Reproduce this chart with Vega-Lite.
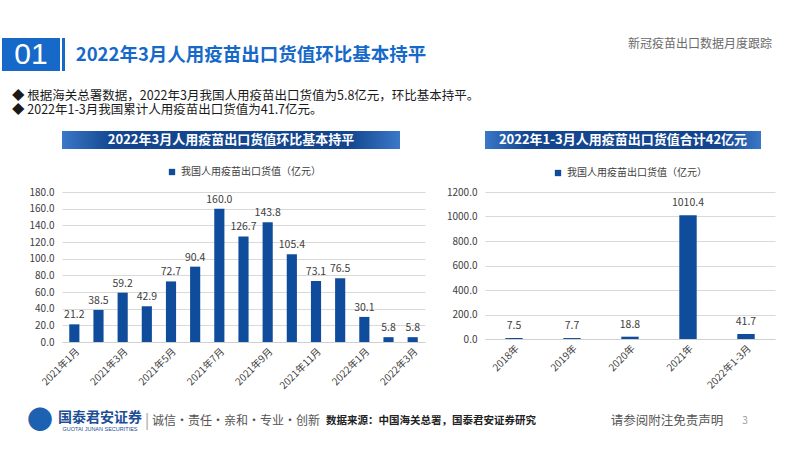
{
 "$schema": "https://vega.github.io/schema/vega-lite/v6.json",
 "background": "#FFFFFF",
 "padding": {"left": 2, "top": 37, "right": 0, "bottom": 0},
 "config": {
  "font": "Noto Sans CJK SC",
  "view": {"stroke": null},
  "legend": {"layout": {"top": {"anchor": "middle"}}},
  "axis": {"labelFont": "Noto Sans CJK SC", "labelColor": "#404040"}
 },
 "spacing": 16,
 "vconcat": [
  {
   "spacing": 18,
   "vconcat": [
    {
     "hconcat": [
      {
       "width": 58, "height": 33,
       "data": {"values": [{"label": "01"}]},
       "layer": [
        {"mark": {"type": "rect", "color": "#1669C9"}, "encoding": {}},
        {"mark": {"type": "text", "color": "#FFFFFF", "fontSize": 30, "font": "Liberation Sans"}, "encoding": {"text": {"field": "label"}}}
       ]
      },
      {"width": 2, "height": 33, "data": {"values": [{"label": ""}]}, "mark": {"type": "text"}, "encoding": {"text": {"field": "label"}}},
      {"width": 3, "height": 33, "data": {"values": [{"label": ""}]}, "mark": {"type": "rect", "color": "#1669C9"}, "encoding": {}},
      {"width": 11, "height": 33, "data": {"values": [{"label": ""}]}, "mark": {"type": "text"}, "encoding": {"text": {"field": "label"}}},
      {
       "width": 350, "height": 33,
       "data": {"values": [{"label": "2022年3月人用疫苗出口货值环比基本持平"}]},
       "mark": {"type": "text", "fontSize": 18.5, "fontWeight": "bold", "color": "#1669C9"},
       "encoding": {"text": {"field": "label"}}
      },
      {"width": 174, "height": 33, "data": {"values": [{"label": ""}]}, "mark": {"type": "text"}, "encoding": {"text": {"field": "label"}}},
      {
       "width": 200, "height": 33,
       "data": {"values": [{"label": "新冠疫苗出口数据月度跟踪"}]},
       "mark": {"type": "text", "fontSize": 12, "color": "#6B6B6B", "dy": -11},
       "encoding": {"text": {"field": "label"}}
      }
     ],
     "spacing": 0,
     "bounds": "flush"
    },
    {
     "title": {"text": "◆ 根据海关总署数据，2022年3月我国人用疫苗出口货值为5.8亿元，环比基本持平。", "subtitle": "◆ 2022年1-3月我国累计人用疫苗出口货值为41.7亿元。", "anchor": "start", "dx": 10, "fontSize": 12.5, "fontWeight": "normal", "color": "#1A1A1A", "subtitleFontSize": 12.5, "subtitleColor": "#1A1A1A", "subtitlePadding": 2, "offset": 9},
     "resolve": {"scale": {"color": "independent"}, "legend": {"color": "independent"}},
     "hconcat": [
      {"width": 1, "height": 1, "data": {"values": [{"label": ""}]}, "mark": {"type": "text"}, "encoding": {"text": {"field": "label"}}},
      {
       "resolve": {"scale": {"color": "independent"}, "legend": {"color": "independent"}},
       "vconcat": [
        {
         "width": 338, "height": 18,
         "data": {"values": [{"label": "2022年3月人用疫苗出口货值环比基本持平"}]},
         "layer": [
          {"mark": {"type": "rect", "color": {"gradient": "linear", "x1": 0, "y1": 0, "x2": 1, "y2": 0, "stops": [{"offset": 0, "color": "#3A78C8"}, {"offset": 0.15, "color": "#13468F"}, {"offset": 0.85, "color": "#13468F"}, {"offset": 1, "color": "#3A78C8"}]}}, "encoding": {}},
          {"mark": {"type": "text", "color": "#FFFFFF", "fontSize": 13, "fontWeight": "bold"}, "encoding": {"text": {"field": "label"}}}
         ]
        },
        {
         "width": 363, "height": 150,
         "data": {"values": [
          {"month": "2021年1月", "value": 21.2},
          {"month": "2021年2月", "value": 38.5},
          {"month": "2021年3月", "value": 59.2},
          {"month": "2021年4月", "value": 42.9},
          {"month": "2021年5月", "value": 72.7},
          {"month": "2021年6月", "value": 90.4},
          {"month": "2021年7月", "value": 160.0},
          {"month": "2021年8月", "value": 126.7},
          {"month": "2021年9月", "value": 143.8},
          {"month": "2021年10月", "value": 105.4},
          {"month": "2021年11月", "value": 73.1},
          {"month": "2021年12月", "value": 76.5},
          {"month": "2022年1月", "value": 30.1},
          {"month": "2022年2月", "value": 5.8},
          {"month": "2022年3月", "value": 5.8}
         ]},
         "encoding": {
          "x": {"field": "month", "type": "nominal", "sort": null, "scale": {"paddingInner": 0.58, "paddingOuter": 0.3},
                "axis": {"title": null, "values": ["2021年1月", "2021年3月", "2021年5月", "2021年7月", "2021年9月", "2021年11月", "2022年1月", "2022年3月"], "labelAngle": -45, "labelFontSize": 10, "ticks": false, "domainColor": "#D0D0D0", "labelPadding": 4}},
          "y": {"field": "value", "type": "quantitative", "scale": {"domain": [0, 180]},
                "axis": {"title": null, "values": [0, 20, 40, 60, 80, 100, 120, 140, 160, 180], "format": ".1f", "domain": false, "ticks": false, "gridColor": "#D9D9D9", "labelFontSize": 10, "labelPadding": 8, "minExtent": 53}}
         },
         "layer": [
          {"mark": {"type": "bar"}, "encoding": {"color": {"datum": "我国人用疫苗出口货值（亿元）", "scale": {"range": ["#0F4C9B"]}, "legend": {"orient": "top", "title": null, "symbolType": "square", "symbolSize": 40, "labelFontSize": 10, "labelColor": "#404040", "offset": 15, "padding": 0}}}},
          {"mark": {"type": "text", "dy": -9, "fontSize": 10.5, "color": "#404040"}, "encoding": {"text": {"field": "value", "format": ".1f"}}}
         ]
        }
       ],
       "spacing": 18
      },
      {
       "resolve": {"scale": {"color": "independent"}, "legend": {"color": "independent"}},
       "vconcat": [
        {
         "width": 276, "height": 18,
         "data": {"values": [{"label": "2022年1-3月人用疫苗出口货值合计42亿元"}]},
         "layer": [
          {"mark": {"type": "rect", "color": {"gradient": "linear", "x1": 0, "y1": 0, "x2": 1, "y2": 0, "stops": [{"offset": 0, "color": "#3A78C8"}, {"offset": 0.15, "color": "#13468F"}, {"offset": 0.85, "color": "#13468F"}, {"offset": 1, "color": "#3A78C8"}]}}, "encoding": {}},
          {"mark": {"type": "text", "color": "#FFFFFF", "fontSize": 13, "fontWeight": "bold"}, "encoding": {"text": {"field": "label"}}}
         ]
        },
        {
         "width": 290, "height": 147,
         "data": {"values": [
          {"year": "2018年", "value": 7.5},
          {"year": "2019年", "value": 7.7},
          {"year": "2020年", "value": 18.8},
          {"year": "2021年", "value": 1010.4},
          {"year": "2022年1-3月", "value": 41.7}
         ]},
         "encoding": {
          "x": {"field": "year", "type": "nominal", "sort": null, "scale": {"paddingInner": 0.7, "paddingOuter": 0.35},
                "axis": {"title": null, "labelAngle": -45, "labelFontSize": 10, "ticks": false, "domainColor": "#D0D0D0", "labelPadding": 4}},
          "y": {"field": "value", "type": "quantitative", "scale": {"domain": [0, 1200]},
                "axis": {"title": null, "values": [0, 200, 400, 600, 800, 1000, 1200], "format": ".1f", "domain": false, "ticks": false, "gridColor": "#D9D9D9", "labelFontSize": 10, "labelPadding": 8, "minExtent": 54}}
         },
         "layer": [
          {"mark": {"type": "bar"}, "encoding": {"color": {"datum": "我国人用疫苗出口货值（亿元）", "scale": {"range": ["#0F4C9B"]}, "legend": {"orient": "top", "title": null, "symbolType": "square", "symbolSize": 40, "labelFontSize": 10, "labelColor": "#404040", "offset": 14, "padding": 0}}}},
          {"mark": {"type": "text", "dy": -12, "fontSize": 10.5, "color": "#404040"}, "encoding": {"text": {"field": "value", "format": ".1f"}}}
         ]
        }
       ],
       "spacing": 19
      }
     ],
     "spacing": 6
    }
   ]
  },
  {
   "hconcat": [
    {"width": 72, "height": 28, "data": {"values": [{"label": "●"}]}, "mark": {"type": "text", "fontSize": 26, "color": "#1D62B0", "dx": 2}, "encoding": {"text": {"field": "label"}}},
    {"width": 52, "height": 28, "data": {"values": [{"label": "国泰君安证券", "sub": "GUOTAI JUNAN SECURITIES"}]},
     "layer": [
      {"mark": {"type": "text", "fontSize": 14, "fontWeight": "bold", "color": "#1D4E96", "dy": -3}, "encoding": {"text": {"field": "label"}}},
      {"mark": {"type": "text", "fontSize": 5.5, "color": "#1D4E96", "dy": 8, "font": "Liberation Sans"}, "encoding": {"text": {"field": "sub"}}}
     ]},
    {"width": 42, "height": 28, "data": {"values": [{"label": "|"}]}, "mark": {"type": "text", "fontSize": 18, "color": "#BBBBBB", "font": "Liberation Sans"}, "encoding": {"text": {"field": "label"}}},
    {"width": 136, "height": 28, "data": {"values": [{"label": "诚信·责任·亲和·专业·创新"}]}, "mark": {"type": "text", "fontSize": 12, "color": "#555555"}, "encoding": {"text": {"field": "label"}}},
    {"width": 254, "height": 28, "data": {"values": [{"label": "数据来源：中国海关总署，国泰君安证券研究"}]}, "mark": {"type": "text", "fontSize": 10.5, "fontWeight": "bold", "color": "#222222"}, "encoding": {"text": {"field": "label"}}},
    {"width": 54, "height": 28, "data": {"values": [{"label": ""}]}, "mark": {"type": "text"}, "encoding": {"text": {"field": "label"}}},
    {"width": 110, "height": 28, "data": {"values": [{"label": "请参阅附注免责声明"}]}, "mark": {"type": "text", "fontSize": 12.5, "color": "#555555"}, "encoding": {"text": {"field": "label"}}},
    {"width": 46, "height": 28, "data": {"values": [{"label": "3"}]}, "mark": {"type": "text", "fontSize": 10, "color": "#999999"}, "encoding": {"text": {"field": "label"}}}
   ],
   "spacing": 0,
   "bounds": "flush"
  }
 ]
}
